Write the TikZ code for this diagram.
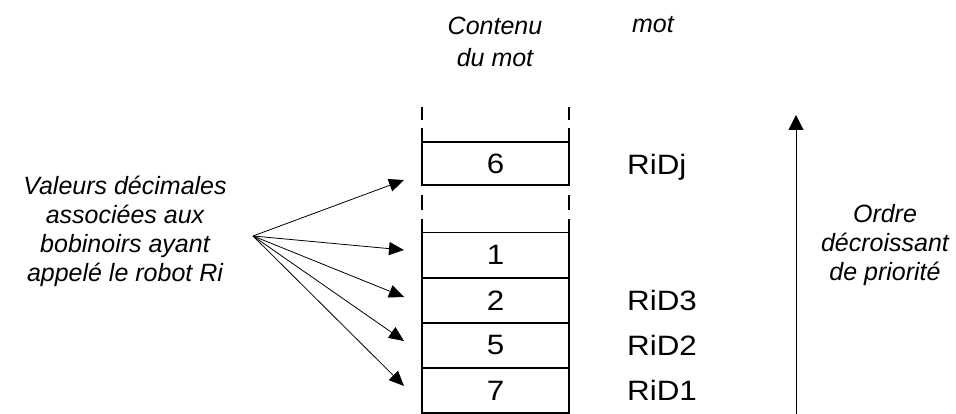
\documentclass[tikz,border=0pt]{standalone}
\usepackage{fontspec}
\setmainfont{Liberation Sans}
\newfontfamily\widesans[FakeStretch=1.12]{Liberation Sans}
\usetikzlibrary{arrows.meta}
\begin{document}
\begin{tikzpicture}[x=1pt,y=-1pt,
  cell/.style={draw,line width=1.2pt,minimum width=147pt,minimum height=45pt,inner sep=0pt,font=\widesans\fontsize{28}{30}\selectfont},
  lab/.style={font=\fontsize{25}{29}\selectfont\itshape,align=center,inner sep=0pt},
  rid/.style={font=\widesans\fontsize{28}{30}\selectfont,anchor=base west,inner sep=0pt},
  ext/.style={line width=1.2pt},
  arr/.style={line width=0.8pt,-{Triangle[length=15pt,width=13pt]}}]
\useasboundingbox (0,0) rectangle (956,414);
% cells
\node[cell,minimum height=43pt] (c6) at (495.5,163.5) {6};
\node[cell] (c1) at (495.5,255) {1};
\node[cell] (c2) at (495.5,300.5) {2};
\node[cell] (c5) at (495.5,345.5) {5};
\node[cell] (c7) at (495.5,390.5) {7};
% dashed extensions
\foreach \xx in {422,569}{
  \draw[ext] (\xx,107) -- (\xx,120);
  \draw[ext] (\xx,128) -- (\xx,142);
  \draw[ext] (\xx,195) -- (\xx,210);
  \draw[ext] (\xx,219) -- (\xx,232.5);
}
% headers
\node[lab,anchor=base] (hc) at (495,67) {Contenu\\[3pt]du mot};
\node[lab,anchor=base] (hm) at (653,33) {mot};
% RiD labels
\node[rid] (rj) at (627,175) {RiDj};
\node[rid] (r3) at (627,310) {RiD3};
\node[rid] (r2) at (627,355) {RiD2};
\node[rid] (r1) at (627,400) {RiD1};
% left label
\node[lab] (vl) at (125,231) {Valeurs décimales\\associées aux\\bobinoirs ayant\\appelé le robot Ri};
% arrows
\coordinate (src) at (253,236);
\coordinate (t6) at (404,180);
\coordinate (t1) at (404,250);
\coordinate (t2) at (404,297);
\coordinate (t5) at (404,341);
\coordinate (t7) at (404,386);
\foreach \t in {t6,t1,t2,t5,t7} \draw[arr] (src) -- (\t);
% priority arrow
\coordinate (pb) at (796,414);
\coordinate (pt) at (796,115);
\draw[line width=1pt,-{Triangle[length=15pt,width=15pt]}] (pb) -- (pt);
\node[lab] (ord) at (885,245) {Ordre\\décroissant\\de priorité};
\end{tikzpicture}
\end{document}
